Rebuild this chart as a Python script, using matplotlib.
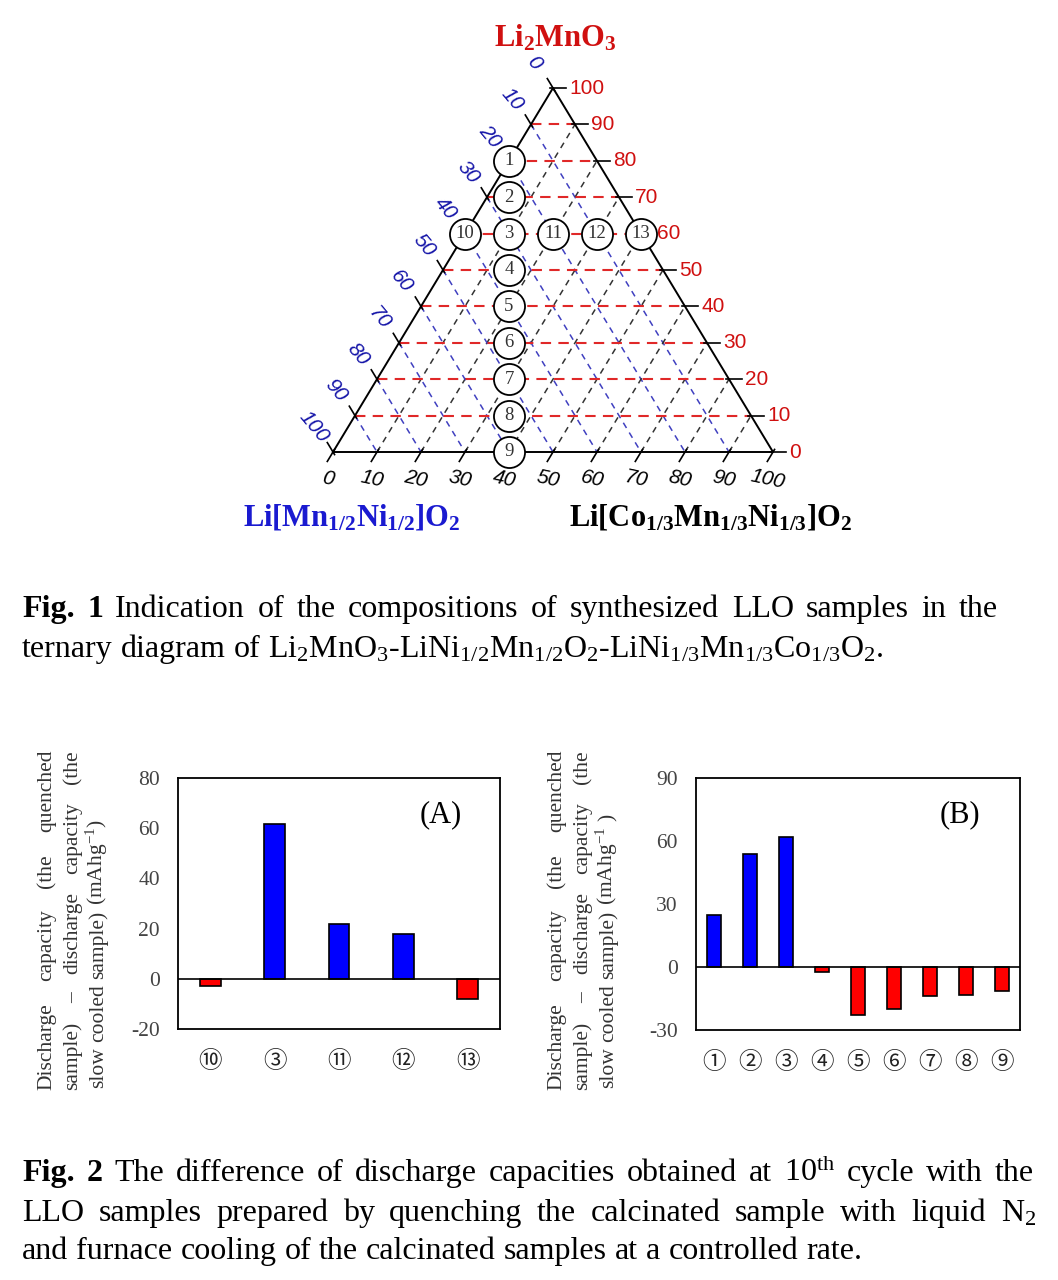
import matplotlib
matplotlib.use("Agg")
import matplotlib.pyplot as plt
import numpy as np

plt.rcParams['mathtext.fontset'] = 'custom'
plt.rcParams['mathtext.rm'] = 'Liberation Serif'
plt.rcParams['mathtext.it'] = 'Liberation Serif:italic'
plt.rcParams['mathtext.bf'] = 'Liberation Serif:bold'
plt.rcParams['mathtext.default'] = 'rm'
plt.rcParams['axes.unicode_minus'] = False

# ---- data ----
# ternary compositions (%): Li2MnO3 and Li[Co1/3Mn1/3Ni1/3]O2
samples = ['1', '2', '3', '4', '5', '6', '7', '8', '9', '10', '11', '12', '13']
li2mno3 = [80, 70, 60, 50, 40, 30, 20, 10, 0, 60, 60, 60, 60]
nmc = [0, 5, 10, 15, 20, 25, 30, 35, 40, 0, 20, 30, 40]
tern_ticks = list(range(0, 101, 10))

# Fig. 2 (A) and (B): capacity difference (mAh/g)
A_labels = ['⑩', '③', '⑪', '⑫', '⑬']
A_values = [-3, 61.5, 22, 18, -8]
A_yticks = [-20, 0, 20, 40, 60, 80]
B_labels = ['①', '②', '③', '④', '⑤', '⑥', '⑦', '⑧', '⑨']
B_values = [25, 54, 62, -2.5, -23, -20, -14, -13.5, -11.5]
B_yticks = [-30, 0, 30, 60, 90]

W, H = 1058, 1280
fig = plt.figure(figsize=(W / 100, H / 100), dpi=100)

RED_T = '#d01010'
BLUE_T = '#1a1ad0'

# ---- ternary diagram ----
tx0, tyb, tw, th = 333, 452, 440, 364   # pixel box of the triangle
tax = fig.add_axes([tx0 / W, 1 - tyb / H, tw / W, th / H])
tax.set_xlim(0, 1)
tax.set_ylim(0, 1)
tax.axis('off')


def tern(t, r):
    # t = Li2MnO3 fraction, r = NMC fraction
    return r + t / 2.0, t


def off(x, y, dx, dy):
    # shift data point by screen pixels (dx right, dy down)
    return x + dx / tw, y - dy / th


uL = np.array([-220.0, -364.0]) / np.hypot(220, 364)   # out of left edge
uB = np.array([-220.0, 364.0]) / np.hypot(220, 364)    # below base

tax.plot([0, 0.5, 1, 0], [0, 1, 0, 0], color='black', lw=1.4, zorder=3, clip_on=False)

for v in tern_ticks[1:-1]:
    f = v / 100.0
    # constant Li2MnO3 (red)
    x1, y1 = tern(f, 0)
    x2, y2 = tern(f, 1 - f)
    tax.plot([x1, x2], [y1, y2], color='#e02828', lw=1.5, dashes=(5, 3.5), zorder=2)
    # constant Li[Mn1/2Ni1/2]O2 (blue)
    x1, y1 = tern(1 - f, 0)
    x2, y2 = tern(0, 1 - f)
    tax.plot([x1, x2], [y1, y2], color='#4040c0', lw=1.1, dashes=(4, 3.5), zorder=1)
    # constant NMC (black)
    x1, y1 = tern(0, f)
    x2, y2 = tern(1 - f, f)
    tax.plot([x1, x2], [y1, y2], color='#333333', lw=1.1, dashes=(4, 3.5), zorder=1)

for v in tern_ticks:
    f = v / 100.0
    # right side: Li2MnO3
    x, y = tern(f, 1 - f)
    tax.plot([off(x, y, -3, 0)[0], off(x, y, 13, 0)[0]], [y, y], color='black', lw=1.2, clip_on=False)
    lx, ly = off(x, y, 16, 0)
    tax.text(lx, ly, str(v), color=RED_T, fontsize=15, family='Liberation Sans',
             ha='left', va='center')
    # left side: Li[Mn1/2Ni1/2]O2
    x, y = tern(1 - f, 0)
    a = off(x, y, -3 * uL[0], -3 * uL[1])
    b = off(x, y, 11 * uL[0], 11 * uL[1])
    tax.plot([a[0], b[0]], [a[1], b[1]], color='black', lw=1.2, clip_on=False)
    lx, ly = off(x, y, 29 * uL[0] - 4, 29 * uL[1])
    tax.text(lx, ly, str(v), color='#1414a8', fontsize=15, family='Liberation Sans',
             style='italic', rotation=-50, ha='center', va='center')
    # bottom: NMC
    x, y = tern(0, f)
    a = off(x, y, -3 * uB[0], -3 * uB[1])
    b = off(x, y, 11 * uB[0], 11 * uB[1])
    tax.plot([a[0], b[0]], [a[1], b[1]], color='black', lw=1.2, clip_on=False)
    lx, ly = off(x, y, -5, 27)
    tax.text(lx, ly, str(v), color='black', fontsize=15, family='Liberation Sans',
             style='italic', rotation=-12, ha='center', va='center')

px_, py_ = tern(np.array(li2mno3) / 100.0, np.array(nmc) / 100.0)
tax.scatter(px_, py_, s=500, facecolor='white', edgecolor='black', linewidth=1.3,
            zorder=5, clip_on=False)
for s, x, y in zip(samples, px_, py_):
    tax.text(x, y, s, ha='center', va='center', fontsize=13.5, family='Liberation Serif',
             color='#333333', zorder=6)

fig.text(555 / W, 1 - 38 / H, r'$\mathbf{Li_2MnO_3}$', color=RED_T, fontsize=22,
         ha='center', va='center')
fig.text(352 / W, 1 - 517 / H, r'$\mathbf{Li[Mn_{1/2}Ni_{1/2}]O_2}$', color=BLUE_T,
         fontsize=22, ha='center', va='center')
fig.text(711 / W, 1 - 517 / H, r'$\mathbf{Li[Co_{1/3}Mn_{1/3}Ni_{1/3}]O_2}$', color='black',
         fontsize=22, ha='center', va='center')


# ---- justified text helper ----
def line(words, x0, y0, length=None, rot=0, size=15, color='black'):
    r = fig.canvas.get_renderer()
    widths = []
    for w, wt in words:
        t = fig.text(0, 0, w, fontsize=size, family='Liberation Serif', weight=wt)
        widths.append(t.get_window_extent(r).width)
        t.remove()
    if length is None or len(words) < 2:
        gap = 0.25 * size * 100 / 72.0
    else:
        gap = (length - sum(widths)) / (len(words) - 1)
    pos = 0.0
    for (w, wt), wd in zip(words, widths):
        if rot == 0:
            x, y = x0 + pos, y0
        else:
            x, y = x0, y0 - pos
        fig.text(x / W, 1 - y / H, w, fontsize=size, family='Liberation Serif', weight=wt,
                 rotation=rot, rotation_mode='anchor', ha='left', va='baseline', color=color)
        pos += wd + gap


def nw(s):
    return [(w, 'normal') for w in s.split()]


CAP = 23
# Fig. 1 caption
line([('Fig.', 'bold'), ('1', 'bold')] + nw('Indication of the compositions of synthesized LLO samples in the'),
     22, 617, length=976, size=CAP)
line(nw(r'ternary diagram of Li$_2$MnO$_3$-LiNi$_{1/2}$Mn$_{1/2}$O$_2$-LiNi$_{1/3}$Mn$_{1/3}$Co$_{1/3}$O$_2$.'),
     22, 657, size=CAP)

# Fig. 2 caption
line([('Fig.', 'bold'), ('2', 'bold')] + nw(r'The difference of discharge capacities obtained at 10$^{\mathrm{th}}$ cycle with the'),
     22, 1181, length=1012, size=CAP)
line(nw(r'LLO samples prepared by quenching the calcinated sample with liquid N$_2$'),
     22, 1221, length=1014, size=CAP)
line(nw('and furnace cooling of the calcinated samples at a controlled rate.'),
     22, 1259, size=CAP)


# ---- bar charts ----
def bars(rect, labels, values, yticks, tag, width, xlx, last_words):
    ax = fig.add_axes([rect[0] / W, 1 - rect[1] / H, rect[2] / W, rect[3] / H])
    xs = np.arange(len(values))
    cols = ['#0000ff' if v > 0 else '#ff0000' for v in values]
    ax.bar(xs, values, width=width, color=cols, edgecolor='black', linewidth=1.2, zorder=3)
    ax.axhline(0, color='black', lw=1.2, zorder=4)
    ax.set_xlim(-0.5, len(values) - 0.5)
    ax.set_ylim(yticks[0], yticks[-1])
    ax.set_yticks(yticks)
    ax.set_xticks(xs)
    ax.set_xticklabels(labels, family=['Noto Sans CJK JP', 'DejaVu Sans'], fontsize=17, color='#222222')
    for t in ax.get_yticklabels():
        t.set_family('Liberation Serif')
        t.set_fontsize(15.5)
        t.set_color('#444444')
    ax.tick_params(axis='y', length=0, pad=13)
    ax.tick_params(axis='x', length=0, pad=15)
    for sp in ax.spines.values():
        sp.set_linewidth(1.3)
    ax.text(0.815, 0.853, tag, transform=ax.transAxes, ha='center', va='center',
            fontsize=22, family='Liberation Serif')
    line(nw('Discharge capacity (the quenched'), xlx, 1090, length=340, rot=90, size=15.5, color='#333333')
    line(nw('sample) – discharge capacity (the'), xlx + 26, 1090, length=340, rot=90, size=15.5, color='#333333')
    line(last_words, xlx + 52, 1088, rot=90, size=15.5, color='#333333')
    return ax


bars((178, 1029, 322, 251), A_labels, A_values, A_yticks, '(A)', 0.32, 51,
     nw(r'slow cooled sample) (mAhg$^{-1}$)'))
bars((696, 1030, 324, 252), B_labels, B_values, B_yticks, '(B)', 0.37, 561,
     nw(r'slow cooled sample) (mAhg$^{-1}$ )'))

fig.savefig('out.png', dpi=100)
